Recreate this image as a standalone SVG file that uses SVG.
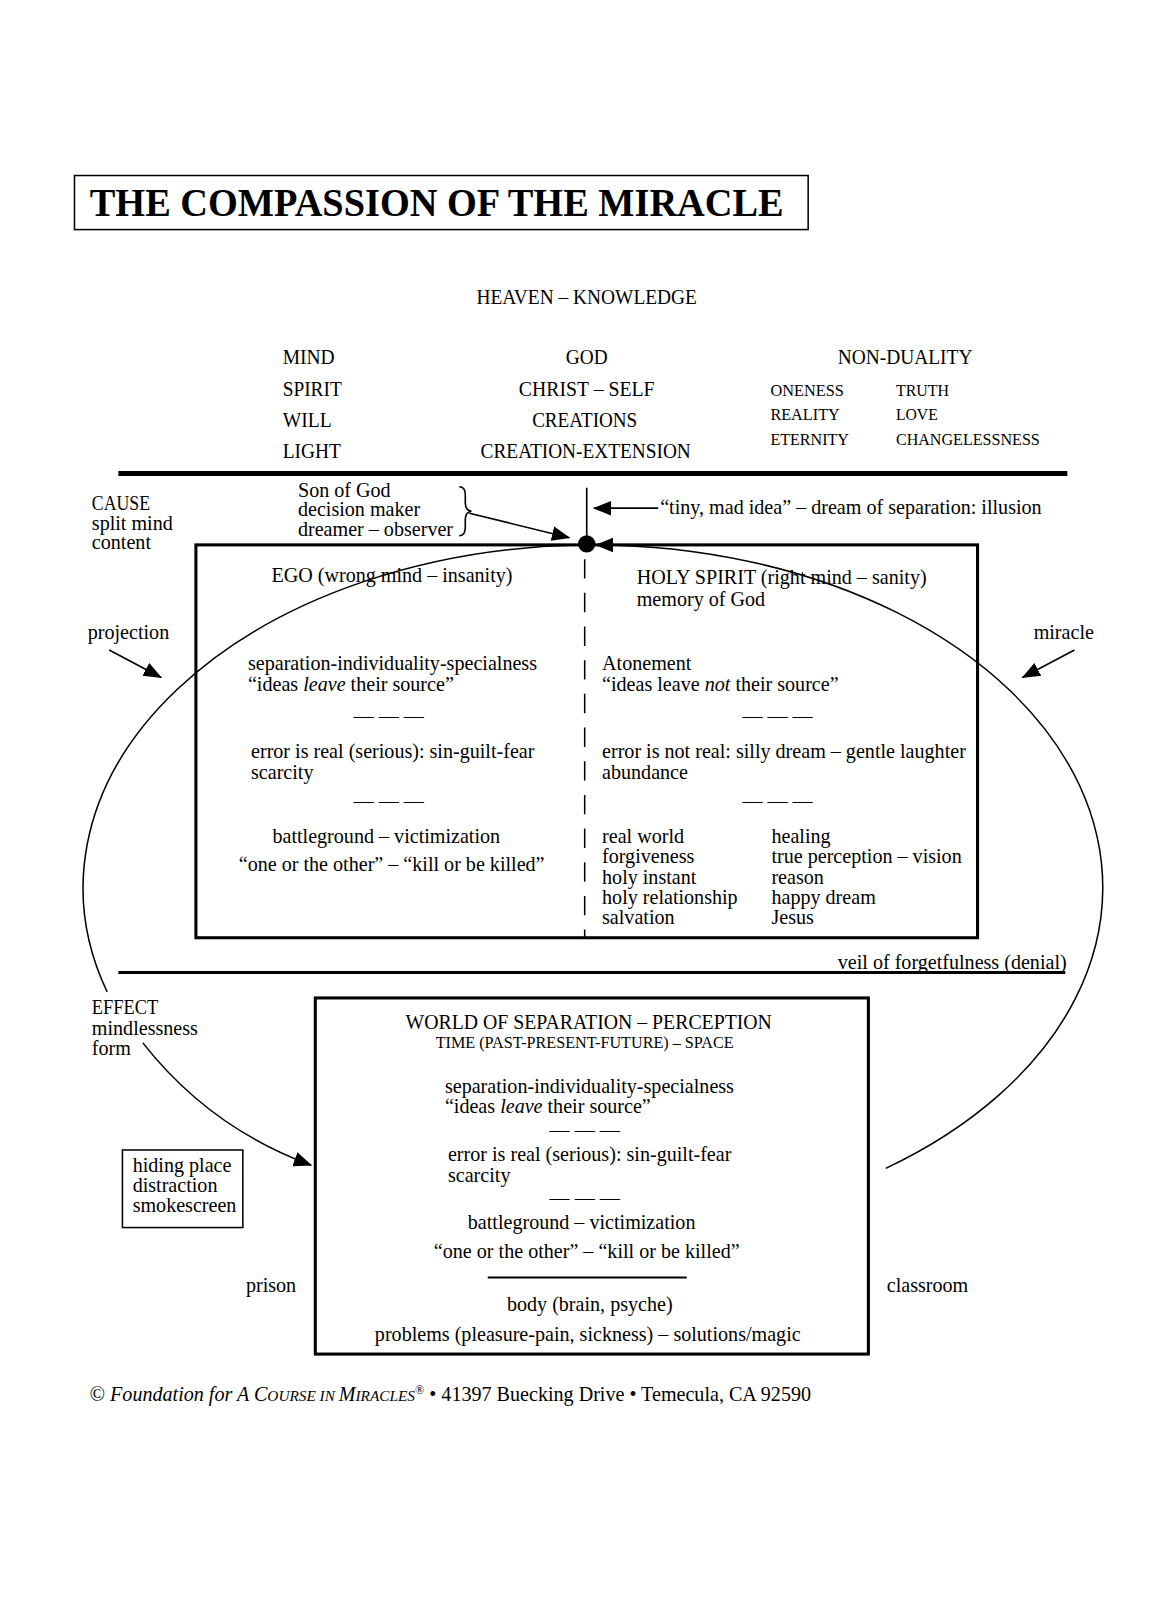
<svg xmlns="http://www.w3.org/2000/svg" width="1150" height="1600" viewBox="0 0 1150 1600">
<defs>
<style>
text{font-family:"Liberation Serif","Times New Roman",serif;fill:#000;font-size:19.7px}
.ti{font-family:"Liberation Serif",serif;font-size:39px;font-weight:bold}
.cap{font-size:20.5px}
.sm{font-size:16.5px}
.tm{font-size:16px}
.sc{font-size:15px}
.sup{font-size:12px}
.it{font-style:italic}
.mid{text-anchor:middle}
.box{fill:none;stroke:#000;stroke-width:3}
.ln{fill:none;stroke:#000;stroke-width:1.6}
.arc{fill:none;stroke:#000;stroke-width:1.5}
</style>
<marker id="ah" viewBox="0 0 20 16" refX="19" refY="8" markerWidth="18" markerHeight="16" markerUnits="userSpaceOnUse" orient="auto">
<path d="M0,0 L20,8 L0,16 Z" fill="#000"/>
</marker>
</defs>
<rect width="1150" height="1600" fill="#fff"/>
<g transform="scale(1.0204)">

<g id="title">
<rect x="73" y="172" width="719" height="53" fill="none" stroke="#000" stroke-width="1.5"/>
<text class="ti" x="88" y="212" textLength="680" lengthAdjust="spacingAndGlyphs">THE COMPASSION OF THE MIRACLE</text>
</g>

<g id="heaven">
<text class="cap mid" x="575" y="298" textLength="216" lengthAdjust="spacingAndGlyphs">HEAVEN – KNOWLEDGE</text>
<text class="cap" x="277" y="357" textLength="51" lengthAdjust="spacingAndGlyphs">MIND</text>
<text class="cap" x="277" y="388" textLength="58" lengthAdjust="spacingAndGlyphs">SPIRIT</text>
<text class="cap" x="277" y="418" textLength="48" lengthAdjust="spacingAndGlyphs">WILL</text>
<text class="cap" x="277" y="449" textLength="57" lengthAdjust="spacingAndGlyphs">LIGHT</text>
<text class="cap mid" x="575" y="357" textLength="41" lengthAdjust="spacingAndGlyphs">GOD</text>
<text class="cap mid" x="575" y="388" textLength="133" lengthAdjust="spacingAndGlyphs">CHRIST – SELF</text>
<text class="cap mid" x="573" y="418" textLength="103" lengthAdjust="spacingAndGlyphs">CREATIONS</text>
<text class="cap mid" x="574" y="449" textLength="206" lengthAdjust="spacingAndGlyphs">CREATION-EXTENSION</text>
<text class="cap mid" x="887" y="357" textLength="132" lengthAdjust="spacingAndGlyphs">NON-DUALITY</text>
<text class="sm" x="755" y="388" textLength="72" lengthAdjust="spacingAndGlyphs">ONENESS</text>
<text class="sm" x="878" y="388" textLength="52" lengthAdjust="spacingAndGlyphs">TRUTH</text>
<text class="sm" x="755" y="412" textLength="68" lengthAdjust="spacingAndGlyphs">REALITY</text>
<text class="sm" x="878" y="412" textLength="41" lengthAdjust="spacingAndGlyphs">LOVE</text>
<text class="sm" x="755" y="436" textLength="77" lengthAdjust="spacingAndGlyphs">ETERNITY</text>
<text class="sm" x="878" y="436" textLength="141" lengthAdjust="spacingAndGlyphs">CHANGELESSNESS</text>
</g>

<line x1="116" y1="464" x2="1046" y2="464" stroke="#000" stroke-width="5"/>

<g id="son-of-god">
<text x="292" y="487">Son of God</text>
<text x="292" y="506">decision maker</text>
<text x="292" y="525">dreamer – observer</text>
<path d="M450,477 q6,0 6,8 v8 q0,7 6,8 q-6,1 -6,8 v8 q0,8 -6,8" class="ln"/>
</g>

<g id="cause">
<text x="90" y="500" textLength="57" lengthAdjust="spacingAndGlyphs">CAUSE</text>
<text x="90" y="519">split mind</text>
<text x="90" y="538">content</text>
</g>

<g id="tiny-mad-idea">
<text x="647" y="504">“tiny, mad idea” – dream of separation: illusion</text>
</g>

<g id="split-mind-box">
<rect x="192" y="534" width="766" height="385" class="box"/>
<line x1="573" y1="548" x2="573" y2="918" stroke="#000" stroke-width="1.5" stroke-dasharray="19 14"/>
</g>

<g id="ego">
<text x="266" y="570">EGO (wrong mind – insanity)</text>
<text x="243" y="657">separation-individuality-specialness</text>
<text x="243" y="677">“ideas <tspan class="it">leave</tspan> their source”</text>
<text class="mid" x="381" y="709">— — —</text>
<text x="246" y="743">error is real (serious): sin-guilt-fear</text>
<text x="246" y="763">scarcity</text>
<text class="mid" x="381" y="792">— — —</text>
<text x="267" y="826">battleground – victimization</text>
<text x="234" y="854">“one or the other” – “kill or be killed”</text>
</g>

<g id="holy-spirit">
<text x="624" y="572">HOLY SPIRIT (right mind – sanity)</text>
<text x="624" y="594">memory of God</text>
<text x="590" y="657">Atonement</text>
<text x="590" y="677">“ideas leave <tspan class="it">not</tspan> their source”</text>
<text class="mid" x="762" y="709">— — —</text>
<text x="590" y="743">error is not real: silly dream – gentle laughter</text>
<text x="590" y="763">abundance</text>
<text class="mid" x="762" y="792">— — —</text>
<text x="590" y="826">real world</text>
<text x="590" y="846">forgiveness</text>
<text x="590" y="866">holy instant</text>
<text x="590" y="886">holy relationship</text>
<text x="590" y="906">salvation</text>
<text x="756" y="826">healing</text>
<text x="756" y="846">true perception – vision</text>
<text x="756" y="866">reason</text>
<text x="756" y="886">happy dream</text>
<text x="756" y="906">Jesus</text>
</g>

<g id="projection"><text x="86" y="626">projection</text></g>
<g id="miracle"><text x="1013" y="626">miracle</text></g>

<g id="veil">
<line x1="116" y1="953" x2="1044" y2="953" stroke="#000" stroke-width="3"/>
<text x="821" y="950">veil of forgetfulness (denial)</text>
</g>

<g id="effect">
<text x="90" y="994" textLength="65" lengthAdjust="spacingAndGlyphs">EFFECT</text>
<text x="90" y="1014">mindlessness</text>
<text x="90" y="1034">form</text>
</g>

<g id="hiding-place">
<rect x="120" y="1127" width="118" height="76" fill="none" stroke="#000" stroke-width="1.5"/>
<text x="130" y="1149">hiding place</text>
<text x="130" y="1168">distraction</text>
<text x="130" y="1188">smokescreen</text>
</g>

<g id="world-box">
<rect x="309" y="978" width="542" height="349" class="box"/>
<text class="mid" x="577" y="1008" textLength="359" lengthAdjust="spacingAndGlyphs">WORLD OF SEPARATION  – PERCEPTION</text>
<text class="tm mid" x="573" y="1027" textLength="292" lengthAdjust="spacingAndGlyphs">TIME (PAST-PRESENT-FUTURE)  – SPACE</text>
<text x="436" y="1071">separation-individuality-specialness</text>
<text x="436" y="1091">“ideas <tspan class="it">leave</tspan> their source”</text>
<text class="mid" x="573" y="1114">— — —</text>
<text x="439" y="1138">error is real (serious): sin-guilt-fear</text>
<text x="439" y="1158">scarcity</text>
<text class="mid" x="573" y="1181">— — —</text>
<text class="mid" x="570" y="1204">battleground – victimization</text>
<text class="mid" x="575" y="1233">“one or the other” – “kill or be killed”</text>
<line x1="478" y1="1252" x2="673" y2="1252" stroke="#000" stroke-width="2"/>
<text class="mid" x="578" y="1285">body (brain, psyche)</text>
<text class="mid" x="576" y="1314">problems (pleasure-pain, sickness) – solutions/magic</text>
</g>

<g id="prison"><text x="241" y="1266">prison</text></g>
<g id="classroom"><text x="869" y="1266">classroom</text></g>

<g id="footer">
<text x="88" y="1373">© <tspan class="it">Foundation for A C</tspan><tspan class="it sc">OURSE IN </tspan><tspan class="it">M</tspan><tspan class="it sc">IRACLES</tspan><tspan class="sup" dy="-7">®</tspan><tspan dy="7"> • 41397 Buecking Drive • Temecula, CA 92590</tspan></text>
</g>

<g id="connectors">
<line x1="575" y1="478" x2="575" y2="532" stroke="#000" stroke-width="1.6"/>
<circle cx="575" cy="533" r="8.5" fill="#000"/>
<line x1="460" y1="503" x2="558" y2="527" class="ln" marker-end="url(#ah)"/>
<line x1="645" y1="498" x2="582" y2="498" class="ln" marker-end="url(#ah)"/>
<path d="M868,1145 A500,336 0 0 0 584,534" class="arc" marker-end="url(#ah)"/>
<path d="M566,534.2 A500,336 0 0 0 105,972" class="arc"/>
<line x1="107" y1="637" x2="158" y2="664" class="ln" marker-end="url(#ah)"/>
<line x1="1053" y1="637" x2="1002" y2="664" class="ln" marker-end="url(#ah)"/>
<path d="M140,1022 Q205,1105 305,1142" class="arc" marker-end="url(#ah)"/>
</g>
</g>
</svg>
